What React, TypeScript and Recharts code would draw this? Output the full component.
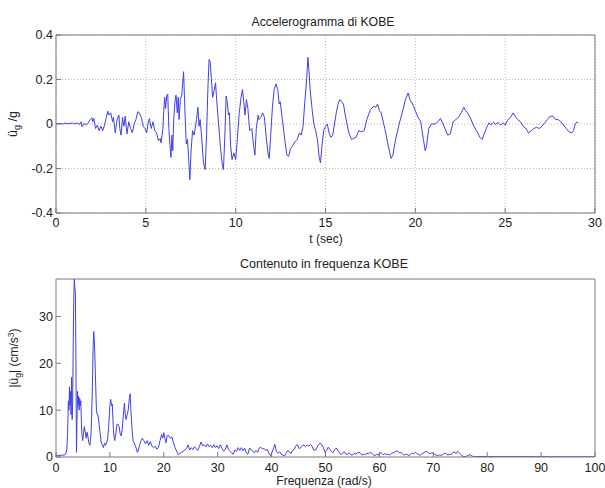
import React from 'react';
import { LineChart, Line, XAxis, YAxis, CartesianGrid } from 'recharts';

const FONT = "'Liberation Sans', Arial, Helvetica, sans-serif";

const titleTop = 'Accelerogramma di KOBE';
const titleBottom = 'Contenuto in frequenza KOBE';
const xLabelTop = 't (sec)';
const xLabelBottom = 'Frequenza (rad/s)';

const timeTicks = [0, 5, 10, 15, 20, 25, 30];
const accTicks = [-0.4, -0.2, 0, 0.2, 0.4];
const freqTicks = [0, 10, 20, 30, 40, 50, 60, 70, 80, 90, 100];
const ampTicks = [0, 10, 20, 30];

const timeSec = [
  0, 0.2, 0.4, 0.5, 0.7, 0.9, 1.0, 1.2, 1.3, 1.4, 1.45, 1.55, 1.7, 1.8, 1.9, 2.0, 2.05, 2.1, 2.2, 2.3,
  2.4, 2.5, 2.6, 2.7, 2.8, 2.88, 2.95, 3.05, 3.15, 3.2, 3.3, 3.4, 3.5, 3.55, 3.62, 3.7, 3.78, 3.85, 3.95, 4.05,
  4.15, 4.25, 4.35, 4.45, 4.55, 4.65, 4.75, 4.85, 4.95, 5.05, 5.12, 5.2, 5.3, 5.4, 5.5, 5.6, 5.7, 5.8, 5.85, 5.95,
  6.0, 6.05, 6.1, 6.17, 6.22, 6.28, 6.35, 6.4, 6.45, 6.5, 6.55, 6.62, 6.68, 6.75, 6.8, 6.85, 6.92, 7.0, 7.1, 7.18,
  7.25, 7.32, 7.38, 7.45, 7.52, 7.6, 7.68, 7.75, 7.82, 7.9, 7.96, 8.02, 8.1, 8.2, 8.3, 8.38, 8.45, 8.52, 8.58, 8.65,
  8.72, 8.8, 8.88, 8.95, 9.05, 9.15, 9.25, 9.32, 9.4, 9.47, 9.53, 9.6, 9.65, 9.72, 9.8, 9.9, 10.0, 10.1, 10.2, 10.3,
  10.38, 10.45, 10.52, 10.6, 10.68, 10.78, 10.9, 11.0, 11.07, 11.15, 11.25, 11.3, 11.4, 11.5, 11.6, 11.7, 11.8, 11.87, 11.95, 12.05,
  12.15, 12.25, 12.35, 12.42, 12.48, 12.6, 12.75, 12.85, 12.95, 13.05, 13.15, 13.3, 13.42, 13.55, 13.65, 13.75, 13.85, 13.95, 14.02, 14.08,
  14.15, 14.25, 14.35, 14.45, 14.55, 14.65, 14.72, 14.8, 14.9, 15.0, 15.1, 15.2, 15.3, 15.4, 15.5, 15.6, 15.7, 15.8, 15.9, 16.0,
  16.1, 16.2, 16.3, 16.45, 16.55, 16.7, 16.85, 17.0, 17.15, 17.3, 17.5, 17.7, 17.8, 17.9, 18.0, 18.1, 18.3, 18.5, 18.65, 18.75,
  18.9, 19.1, 19.3, 19.45, 19.6, 19.7, 19.85, 20.0, 20.15, 20.3, 20.45, 20.55, 20.62, 20.75, 20.9, 21.1, 21.25, 21.4, 21.55, 21.7,
  21.8, 21.95, 22.1, 22.25, 22.4, 22.55, 22.7, 22.8, 22.9, 23.05, 23.2, 23.4, 23.6, 23.72, 23.85, 24.0, 24.1, 24.2, 24.35, 24.45,
  24.6, 24.75, 24.9, 25.0, 25.15, 25.3, 25.45, 25.55, 25.7, 25.85, 26.0, 26.15, 26.3, 26.45, 26.6, 26.75, 26.9, 27.05, 27.2, 27.35,
  27.5, 27.65, 27.8, 27.95, 28.1, 28.25, 28.4, 28.55, 28.7, 28.8, 28.9, 29.0, 29.05,
];

const accelG = [
  0, 0.003, 0.0, 0.004, 0.001, 0.005, 0.0, 0.004, -0.002, 0.01, -0.012, 0.002, -0.004, 0.005, 0.02, 0.028, 0.01, 0.025, -0.02, -0.005,
  -0.03, -0.01, -0.03, -0.005, 0.03, 0.058, 0.04, 0.05, 0.01, 0.03, -0.04, 0.02, 0.04, -0.02, -0.05, 0.03, -0.01, 0.035, -0.045, 0.01,
  -0.02, -0.04, 0.0, 0.02, 0.055, 0.05, 0.03, -0.01, -0.02, -0.04, 0.0, 0.025, -0.02, 0.01, -0.03, -0.04, -0.075, -0.065, -0.085, -0.02,
  0.06, 0.12, 0.07, 0.13, 0.135, -0.02, -0.1, -0.15, -0.05, -0.12, 0.02, 0.1, 0.13, 0.05, 0.12, 0.02, 0.11, 0.13, 0.235, 0.05,
  -0.09, -0.07, -0.15, -0.25, -0.12, -0.03, -0.05, -0.02, 0.02, 0.075, -0.01, 0.02, -0.05, -0.17, -0.205, -0.05, 0.15, 0.29, 0.28, 0.2,
  0.12, 0.15, 0.185, 0.1, 0.0, -0.1, -0.18, -0.205, -0.05, 0.125, 0.1, 0.04, 0.05, -0.1, -0.16, -0.13, -0.16, -0.06, 0.05, 0.12,
  0.155, 0.1, 0.04, 0.11, 0.07, -0.03, -0.02, -0.1, -0.14, -0.02, 0.04, 0.02, 0.03, 0.05, 0.03, -0.06, -0.13, -0.155, -0.05, 0.08,
  0.16, 0.18, 0.15, 0.09, 0.1, 0.02, -0.08, -0.14, -0.145, -0.11, -0.1, -0.08, -0.07, -0.04, -0.05, -0.01, 0.1, 0.2, 0.3, 0.24,
  0.15, 0.07, 0.0, -0.03, -0.07, -0.15, -0.175, -0.1, -0.03, -0.01, 0.0, -0.04, -0.06, -0.05, 0.0, 0.05, 0.09, 0.11, 0.1, 0.09,
  0.04, 0.0, -0.04, -0.07, -0.065, -0.06, -0.03, -0.035, -0.03, 0.02, 0.065, 0.08, 0.075, 0.09, 0.06, 0.05, -0.02, -0.1, -0.155, -0.14,
  -0.07, 0.0, 0.06, 0.11, 0.14, 0.11, 0.09, 0.06, 0.03, 0.01, -0.07, -0.12, -0.1, -0.02, 0.0, 0.0, 0.01, 0.025, 0.0, -0.03,
  -0.05, -0.045, 0.01, 0.02, 0.03, 0.05, 0.075, 0.06, 0.05, 0.03, 0.0, -0.03, -0.06, -0.07, -0.04, -0.01, 0.005, -0.005, 0.008, -0.002,
  0.007, -0.005, 0.005, -0.005, 0.02, 0.03, 0.05, 0.035, 0.02, 0.01, -0.01, -0.02, -0.04, -0.03, -0.02, -0.015, -0.02, -0.01, 0.005, 0.02,
  0.035, 0.035, 0.02, 0.02, 0.01, -0.005, -0.02, -0.035, -0.04, -0.03, 0.0, 0.01, 0.005,
];

const freqRad = [
  0, 0.5, 1.0, 1.5, 1.8, 2.0, 2.15, 2.3, 2.4, 2.5, 2.6, 2.7, 2.8, 2.9, 3.0, 3.1, 3.2, 3.3, 3.4, 3.5,
  3.6, 3.7, 3.8, 3.9, 4.0, 4.1, 4.2, 4.3, 4.4, 4.5, 4.6, 4.7, 4.8, 4.95, 5.1, 5.25, 5.4, 5.6, 5.75, 5.9,
  6.1, 6.3, 6.5, 6.6, 6.75, 6.9, 7.0, 7.1, 7.2, 7.3, 7.4, 7.5, 7.65, 7.8, 8.0, 8.2, 8.4, 8.6, 8.8, 9.0,
  9.2, 9.4, 9.6, 9.8, 10.0, 10.15, 10.3, 10.45, 10.6, 10.75, 10.9, 11.1, 11.3, 11.5, 11.7, 11.9, 12.1, 12.3, 12.5, 12.7,
  12.85, 13.0, 13.2, 13.4, 13.6, 13.75, 13.9, 14.1, 14.3, 14.5, 14.7, 14.9, 15.1, 15.3, 15.5, 15.8, 16.0, 16.3, 16.6, 16.9,
  17.2, 17.5, 17.8, 18.1, 18.4, 18.7, 19.0, 19.3, 19.6, 19.8, 20.0, 20.2, 20.4, 20.6, 20.9, 21.2, 21.5, 21.8, 22.1, 22.4,
  22.7, 23.0, 23.3, 23.6, 23.9, 24.2, 24.5, 24.8, 25.1, 25.4, 25.7, 26.0, 26.3, 26.6, 26.9, 27.2, 27.5, 27.8, 28.1, 28.4,
  28.7, 29.0, 29.3, 29.6, 29.9, 30.2, 30.5, 30.8, 31.1, 31.4, 31.7, 32.0, 32.3, 32.6, 32.9, 33.2, 33.5, 33.8, 34.1, 34.4,
  34.7, 35.0, 35.3, 35.6, 35.9, 36.2, 36.5, 36.8, 37.1, 37.4, 37.7, 38.0, 38.3, 38.6, 38.9, 39.2, 39.5, 39.8, 40.1, 40.4,
  40.6, 40.9, 41.2, 41.5, 41.8, 42.1, 42.4, 42.7, 43.0, 43.3, 43.6, 43.9, 44.2, 44.5, 44.8, 45.1, 45.4, 45.7, 46.0, 46.3,
  46.6, 46.9, 47.2, 47.5, 47.8, 48.1, 48.4, 48.7, 49.0, 49.3, 49.6, 49.9, 50.2, 50.5, 50.8, 51.1, 51.4, 51.7, 52.0, 52.3,
  52.6, 52.9, 53.2, 53.5, 53.8, 54.1, 54.4, 54.7, 55.0, 55.3, 55.6, 55.9, 56.2, 56.5, 56.8, 57.1, 57.4, 57.7, 58.0, 58.3,
  58.6, 58.9, 59.2, 59.5, 59.8, 60.1, 60.4, 60.7, 61.0, 61.3, 61.6, 61.9, 62.2, 62.5, 62.8, 63.1, 63.4, 63.7, 64.0, 64.3,
  64.6, 64.9, 65.2, 65.5, 65.8, 66.1, 66.4, 66.7, 67.0, 67.3, 67.6, 67.9, 68.2, 68.5, 68.8, 69.1, 69.4, 69.7, 70.0, 70.3,
  70.6, 70.9, 71.2, 71.5, 71.8, 72.1, 72.4, 72.7, 73.0, 73.3, 73.6, 73.9, 74.2, 74.5, 74.8, 75.1, 75.4, 75.7, 76.0, 76.4,
  76.8, 77.2, 77.6, 78.0, 79, 80, 82, 85, 90, 95, 100,
];

const ampSpec = [
  0.4, 0.3, 0.4, 0.4, 0.6, 1.5, 5, 12, 10, 15, 11, 14, 9, 17, 8, 12, 25, 34, 38, 36,
  35, 20, 1, 8, 14, 11, 13, 10, 12.5, 11, 12, 8, 5, 3.5, 5, 6.5, 5.5, 4, 5.3, 4.5,
  3, 2.5, 5, 8, 15, 24, 26.8, 25, 22, 18, 14, 10, 9, 9, 7, 5, 3, 2.5, 2, 3,
  2.5, 3, 4, 7, 11, 12.3, 11, 11.3, 7, 4.5, 3.5, 5, 7, 7, 6.5, 5, 4.5, 6, 9, 11.5,
  9, 8, 9, 10, 12.5, 13.5, 10, 6, 3.5, 3, 2.5, 1.8, 1, 1.5, 2.5, 3.5, 4, 3.5, 2.8, 3.5,
  2.5, 3.3, 2.3, 2, 2.3, 1.7, 2, 3.5, 4.8, 4, 5.2, 4, 3, 4.5, 4.6, 4, 4.3, 3, 2, 1.2,
  0.5, 0.8, 1, 1.2, 1.5, 1.8, 2.6, 1.5, 2, 1.6, 2.2, 1.8, 1.4, 2.2, 3.2, 2.4, 2.6, 2.2, 2.8, 2.2,
  2.5, 2.0, 2.6, 2.0, 2.4, 1.8, 2.6, 1.8, 1.2, 1.6, 2.6, 1.6, 1.2, 0.8, 0.6, 1.5, 1.2, 2.0, 1.4, 2.0,
  1.3, 1.9, 0.9, 0.6, 1.9, 1.6, 1.2, 0.9, 1.4, 1.0, 1.9, 2.1, 1.7, 1.8, 1.4, 1.6, 0.8, 0.3, 1.0, 2.0,
  2.7, 1.2, 0.8, 1.1, 0.6, 0.4, 0.2, 0.8, 1.4, 1.0, 0.8, 1.4, 1.6, 2.4, 2.6, 1.8, 2.0, 2.4, 2.6, 2.2,
  2.5, 2.3, 2.7, 2.3, 1.5, 1.4, 2.0, 2.6, 3.0, 2.6, 2.1, 1.0, 1.4, 2.1, 1.6, 1.2, 0.9, 1.6, 1.9, 1.4,
  0.9, 0.5, 0.9, 1.1, 0.6, 0.6, 0.9, 0.5, 0.4, 0.8, 0.6, 0.9, 1.0, 0.8, 0.4, 0.6, 0.5, 0.8, 0.7, 1.0,
  0.8, 0.5, 0.3, 0.6, 0.4, 0.9, 0.8, 0.5, 0.7, 0.5, 0.6, 0.4, 0.7, 0.9, 1.0, 1.3, 1.2, 0.9, 1.0, 0.6,
  0.4, 0.6, 0.5, 0.3, 0.6, 0.8, 0.7, 1.0, 0.7, 0.5, 0.4, 0.7, 0.9, 1.1, 1.2, 0.9, 0.7, 0.9, 0.8, 0.5,
  0.4, 0.3, 0.5, 0.3, 0.6, 0.8, 0.7, 0.4, 0.6, 0.5, 0.9, 1.1, 0.7, 1.2, 0.9, 0.5, 0.2, 0.1, 0.1, 0.3,
  0.5, 0.2, 0.05, 0.1, 0.1, 0.1, 0.08, 0.08, 0.06, 0.05, 0.05,
];

const accData = timeSec.map((t, i) => ({ t, a: accelG[i] }));
const specData = freqRad.map((f, i) => ({ f, v: ampSpec[i] }));

const LINE = '#4040ea';
const BOX = '#7a7a7a';
const TXT = '#222222';
const tickStyle = { fill: TXT, fontSize: 12.5, fontFamily: FONT };

export default function App() {
  return (
    <div style={{ position: 'absolute', left: 0, top: 0, width: 605, height: 488, background: '#fff', fontFamily: FONT }}>
      <div style={{ position: 'absolute', left: 0, top: 0 }}>
        <LineChart width={605} height={250} data={accData} margin={{ top: 34, right: 9, bottom: 0, left: 0 }}>
          <CartesianGrid xAxisId="b" yAxisId="l" stroke="#b8b8b8" strokeDasharray="1 2" />
          <XAxis xAxisId="b" dataKey="t" type="number" domain={[0, 30]} ticks={timeTicks} interval={0}
            height={37} tickSize={-5} tickMargin={10} stroke={BOX} tick={tickStyle} allowDataOverflow />
          <XAxis xAxisId="t" orientation="top" dataKey="t" type="number" domain={[0, 30]} ticks={timeTicks}
            interval={0} height={1} tickSize={-5} tick={false} stroke={BOX} allowDataOverflow />
          <YAxis yAxisId="l" type="number" domain={[-0.4, 0.4]} ticks={accTicks} interval={0} width={56}
            tickSize={-5} tickMargin={8} stroke={BOX} tick={tickStyle} allowDataOverflow />
          <YAxis yAxisId="r" orientation="right" type="number" domain={[-0.4, 0.4]} ticks={accTicks} interval={0}
            width={1} tickSize={-5} tick={false} stroke={BOX} allowDataOverflow />
          <Line xAxisId="b" yAxisId="l" type="linear" dataKey="a" stroke={LINE} strokeWidth={1}
            dot={false} isAnimationActive={false} />
        </LineChart>
      </div>
      <div style={{ position: 'absolute', left: 0, top: 250 }}>
        <LineChart width={605} height={238} data={specData} margin={{ top: 28, right: 9, bottom: 0, left: 0 }}>
          <XAxis xAxisId="b" dataKey="f" type="number" domain={[0, 100]} ticks={freqTicks} interval={0}
            height={31} tickSize={-5} tickMargin={11} stroke={BOX} tick={tickStyle} allowDataOverflow />
          <XAxis xAxisId="t" orientation="top" dataKey="f" type="number" domain={[0, 100]} ticks={freqTicks}
            interval={0} height={1} tickSize={-5} tick={false} stroke={BOX} allowDataOverflow />
          <YAxis yAxisId="l" type="number" domain={[0, 38]} ticks={ampTicks} interval={0} width={56}
            tickSize={-5} tickMargin={8} stroke={BOX} tick={tickStyle} allowDataOverflow />
          <YAxis yAxisId="r" orientation="right" type="number" domain={[0, 38]} ticks={ampTicks} interval={0}
            width={1} tickSize={-5} tick={false} stroke={BOX} allowDataOverflow />
          <Line xAxisId="b" yAxisId="l" type="linear" dataKey="v" stroke={LINE} strokeWidth={1}
            dot={false} isAnimationActive={false} />
        </LineChart>
      </div>
      <svg width={605} height={488} style={{ position: 'absolute', left: 0, top: 0, pointerEvents: 'none' }}
        fontFamily={FONT} fill={TXT}>
        <text x={323} y={26} textAnchor="middle" fontSize={12.5} textLength={143} lengthAdjust="spacingAndGlyphs">{titleTop}</text>
        <text x={324} y={268} textAnchor="middle" fontSize={12.5} textLength={168} lengthAdjust="spacingAndGlyphs">{titleBottom}</text>
        <text x={326} y={243} textAnchor="middle" fontSize={12}>{xLabelTop}</text>
        <text x={324} y={485} textAnchor="middle" fontSize={12}>{xLabelBottom}</text>
        <text transform="translate(17,124) rotate(-90)" textAnchor="middle" fontSize={12.5}>
          ü<tspan dy={3} fontSize={9}>g</tspan><tspan dy={-3}> /g</tspan>
        </text>
        <text transform="translate(18,358) rotate(-90)" textAnchor="middle" fontSize={12}>
          |ü<tspan dy={3} fontSize={8.5}>g</tspan><tspan dy={-3}>|  (cm/s</tspan><tspan dy={-4} fontSize={8.5}>3</tspan><tspan dy={4}>)</tspan>
        </text>
      </svg>
    </div>
  );
}
